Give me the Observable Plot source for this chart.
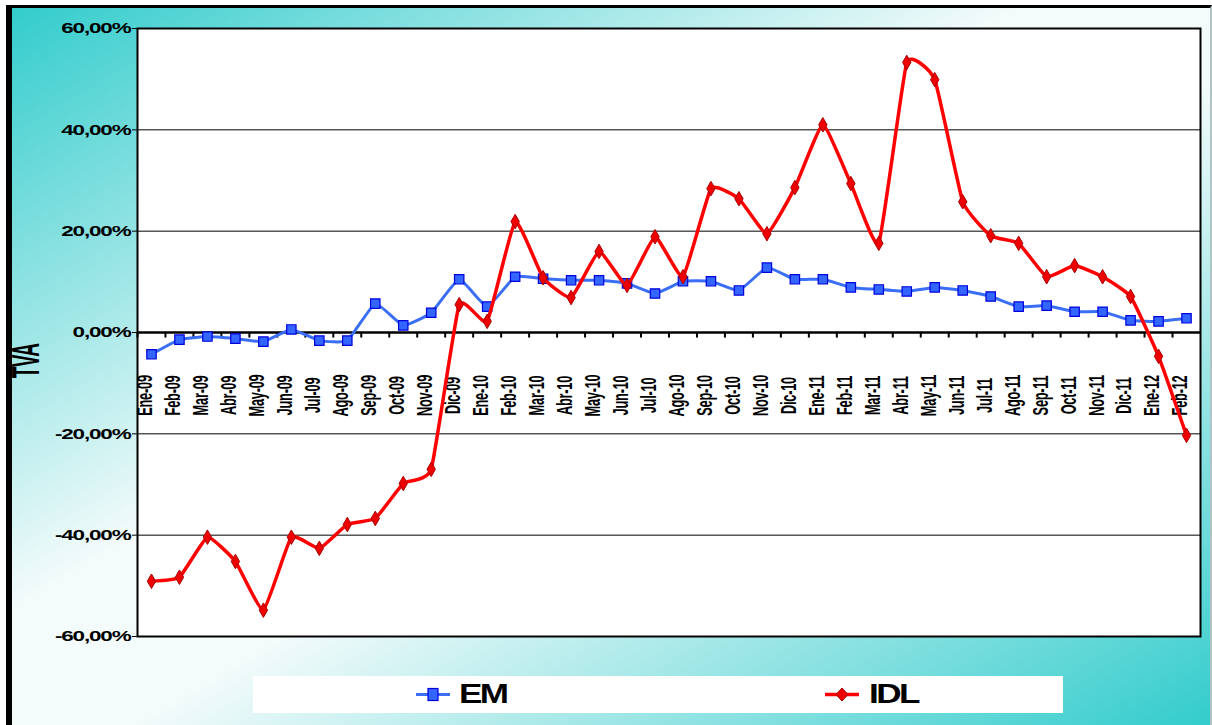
<!DOCTYPE html>
<html><head><meta charset="utf-8">
<script src="https://cdn.jsdelivr.net/npm/d3@7"></script>
<script src="https://cdn.jsdelivr.net/npm/@observablehq/plot@0.6"></script>
<style>
body{margin:0;background:#fff;}
#wrap{position:relative;width:1212px;height:725px;overflow:hidden;font-family:"Liberation Sans",Arial,sans-serif;}
#bg{position:absolute;left:6px;top:5px;width:1206px;height:720px;box-sizing:border-box;border-left:6px solid #000;border-top:3px solid #000;border-right:2px solid #b0c4c4;background:linear-gradient(to bottom right,#33cccc 0%,#f4fbfb 42%,#f4fbfb 55%,#33cccc 100%);}
#chart{position:absolute;left:0;top:0;}
#tva{position:absolute;left:-24px;top:341px;width:100px;height:40px;line-height:40px;text-align:center;font-size:30px;font-weight:bold;color:#000;transform:rotate(-90deg) scale(0.63,1.3);letter-spacing:-1px;}
#legend{position:absolute;left:253px;top:676px;width:810px;height:37px;background:#fff;}
#legend svg{position:absolute;left:0;top:0;}
.lt{position:absolute;top:0;height:37px;line-height:37px;font-size:27px;font-weight:bold;color:#000;transform:scaleX(1.3);transform-origin:left center;letter-spacing:-2px;}
</style>
</head><body>
<div id="wrap">
  <div id="bg"></div>
  <div id="chart"></div>
  <div id="tva">TVA</div>
  <div id="legend">
    <svg width="810" height="37">
      <line x1="163" x2="197" y1="18.5" y2="18.5" stroke="#3a6ef5" stroke-width="3"/>
      <rect x="175" y="12.5" width="10" height="12" fill="#3366ff" stroke="#0000dd" stroke-width="1.2"/>
      <line x1="572" x2="606" y1="18.5" y2="18.5" stroke="#ff0000" stroke-width="3.5"/>
      <path d="M589,12 L595,18.5 L589,25 L583,18.5 Z" fill="#ee0000" stroke="#aa0000" stroke-width="1"/>
    </svg>
    <span class="lt" style="left:206px">EM</span>
    <span class="lt" style="left:616px">IDL</span>
  </div>
</div>
<script>
const months = ["Ene-09","Feb-09","Mar-09","Abr-09","May-09","Jun-09","Jul-09","Ago-09","Sep-09","Oct-09","Nov-09","Dic-09",
  "Ene-10","Feb-10","Mar-10","Abr-10","May-10","Jun-10","Jul-10","Ago-10","Sep-10","Oct-10","Nov-10","Dic-10",
  "Ene-11","Feb-11","Mar-11","Abr-11","May-11","Jun-11","Jul-11","Ago-11","Sep-11","Oct-11","Nov-11","Dic-11",
  "Ene-12","Feb-12"];
const em = [-4.3,-1.4,-0.8,-1.2,-1.8,0.6,-1.6,-1.6,5.7,1.4,3.9,10.5,
  5.1,11.0,10.6,10.3,10.3,9.7,7.7,10.1,10.1,8.3,12.8,10.5,
  10.5,8.9,8.5,8.1,8.9,8.3,7.1,5.1,5.3,4.1,4.1,2.4,
  2.2,2.8];
const idl = [-49.1,-48.3,-40.4,-45.2,-54.8,-40.4,-42.6,-37.9,-36.7,-29.8,-27.0,5.5,
  2.2,21.9,10.8,6.9,16.0,9.3,18.9,11.0,28.4,26.4,19.5,28.6,
  41.0,29.4,17.6,53.3,49.9,25.8,19.1,17.6,11.0,13.2,11.0,7.1,
  -4.7,-20.3];
const yTicks = [-60,-40,-20,0,20,40,60];
const fmt = d => d.toFixed(2).replace(".", ",") + "%";

const rows = months.map((m, i) => ({m, em: em[i], idl: idl[i]}));

const chart = Plot.plot({
  width: 1212, height: 725,
  marginLeft: 137, marginTop: 28, marginRight: 12, marginBottom: 89,
  style: {background: "transparent", fontFamily: "'Liberation Sans', Arial, sans-serif", overflow: "visible"},
  x: {type: "point", domain: months, padding: 0.5, axis: null},
  y: {domain: [-60, 60], axis: null},
  marks: [
    Plot.frame({fill: "white", stroke: "none"}),
    Plot.ruleY(yTicks.filter(d => d !== 0), {stroke: "black", strokeWidth: 1}),
    Plot.axisY({ticks: yTicks, tickSize: 5, tickPadding: 2, tickFormat: fmt, stroke: "black", label: null, fontSize: 15.5, fontWeight: "bold", fill: "black"}),
    Plot.ruleY([0], {stroke: "black", strokeWidth: 2.5}),
    Plot.ruleX(months, {x: d => d, y1: 0, y2: -1.1, dx: -14, stroke: "black", strokeWidth: 2}),
    Plot.text(months, {x: d => d, y: 0, text: d => d, rotate: -90, dy: 63, dx: -6, textAnchor: "middle", fontSize: 16, fontWeight: "bold", fill: "black"}),
    Plot.line(rows, {x: "m", y: "em", stroke: "#3a6ef5", strokeWidth: 3, curve: "cardinal", tension: 0.6}),
    Plot.dot(rows, {x: "m", y: "em", symbol: "square", r: 5.3, fill: "#3366ff", stroke: "#0000dd", strokeWidth: 1.2}),
    Plot.line(rows, {x: "m", y: "idl", stroke: "#ff0000", strokeWidth: 3.5, curve: "cardinal", tension: 0.6}),
    Plot.dot(rows, {x: "m", y: "idl", symbol: "diamond", r: 4.4, fill: "#ee0000", stroke: "#aa0000", strokeWidth: 1}),
    Plot.frame({stroke: "black", strokeWidth: 2})
  ]
});
document.getElementById("chart").appendChild(chart);

function squash(nodes, sx, sy, ls) {
  nodes.forEach(el => {
    const t = el.getAttribute("transform") || "";
    el.setAttribute("transform", `${t} scale(${sx},${sy})`);
    el.style.letterSpacing = ls;
  });
}
squash(chart.querySelectorAll('g[aria-label="y-axis tick label"] text'), 1.45, 1, "-0.8px");
squash(chart.querySelectorAll('g[aria-label="text"] text'), 0.8, 1.35, "-0.3px");
</script>
</body></html>
